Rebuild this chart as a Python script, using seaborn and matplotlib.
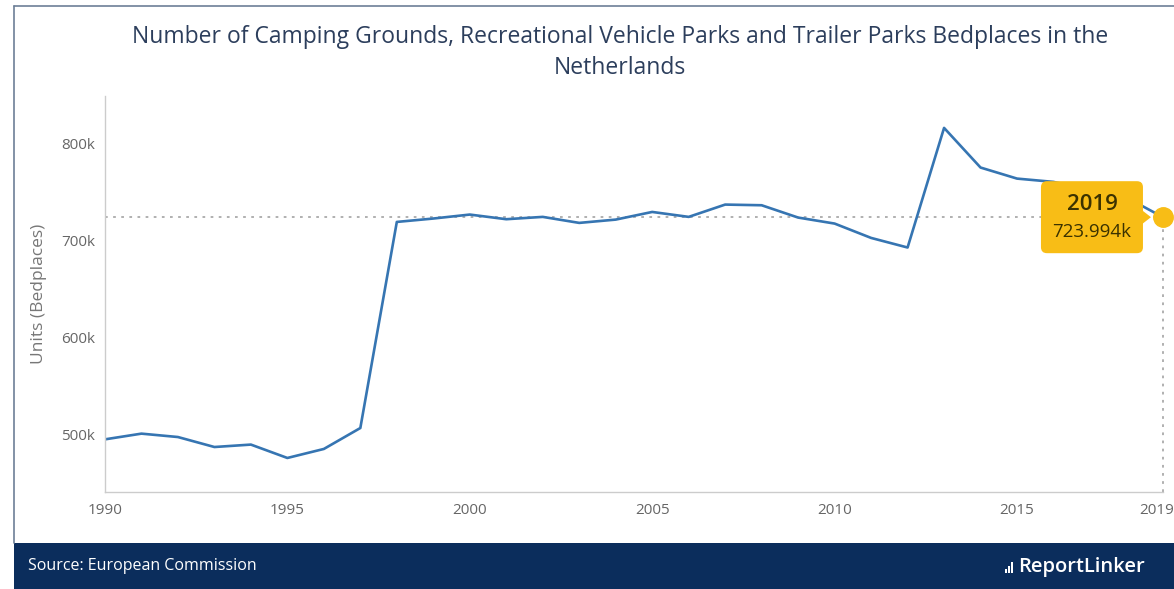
import numpy as np
import pandas as pd
import seaborn as sns
import matplotlib.pyplot as plt
from matplotlib.patches import Rectangle, FancyBboxPatch, Polygon
from matplotlib.lines import Line2D
from matplotlib.transforms import ScaledTranslation
from matplotlib.ticker import FuncFormatter

# data
years = list(range(1990, 2020))
bedplaces = [494800, 500700, 497200, 486900, 489400, 475600, 484900, 506500,
             719100, 722600, 726700, 721900, 724300, 718100, 721500, 729400,
             724300, 737000, 736300, 723600, 717400, 702600, 692700, 816100,
             775200, 763800, 760400, 752000, 744300, 723994]
y_ticks = [500000, 600000, 700000, 800000]
x_ticks = [1990, 1995, 2000, 2005, 2010, 2015, 2019]
title = ("Number of Camping Grounds, Recreational Vehicle Parks and Trailer Parks Bedplaces in the\n"
         "Netherlands")
y_label = "Units (Bedplaces)"
source = "Source: European Commission"
tip_year = "2019"
tip_value = "723.994k"

df = pd.DataFrame({"year": years, "value": bedplaces})

sns.set_style("white")
plt.rcParams['font.family'] = ['Open Sans', 'DejaVu Sans']

fig = plt.figure(figsize=(11.74, 5.89), dpi=100)
ax = fig.add_axes([0.0894, 0.1647, 0.9012, 0.6723])

sns.lineplot(data=df, x="year", y="value", ax=ax, color="#3675b2", linewidth=1.9)

ax.set_xlim(1990, 2019)
ax.set_ylim(440500, 849000)
ax.set_xticks(x_ticks)
ax.set_yticks(y_ticks)
ax.yaxis.set_major_formatter(FuncFormatter(lambda v, p: f"{int(v/1000)}k"))
ax.tick_params(axis="both", which="both", length=5, width=0.8, color="#cccccc",
               labelsize=11, labelcolor="#666666", direction="out", pad=2)
ax.tick_params(axis="x", pad=3)
# keep the last year label inside the figure
last_lab = ax.get_xticklabels()[-1]
last_lab.set_transform(last_lab.get_transform() + ScaledTranslation(-6 / 100, 0, fig.dpi_scale_trans))
for s in ["top", "right"]:
    ax.spines[s].set_visible(False)
for s in ["left", "bottom"]:
    ax.spines[s].set_color("#cccccc")
    ax.spines[s].set_linewidth(1)
ax.set_xlabel("")
ax.set_ylabel(y_label, fontsize=12.5, color="#777777", labelpad=10)

# crosshair to the last point
last_x, last_y = years[-1], bedplaces[-1]
ax.axhline(last_y, color="#aaaaaa", linestyle=(0, (1.5, 3)), linewidth=1.3, zorder=1)
ax.plot([last_x, last_x], [ax.get_ylim()[0], last_y], color="#aaaaaa",
        linestyle=(0, (1.5, 3)), linewidth=1.3, clip_on=False, zorder=1)
ax.plot([last_x], [last_y], marker="o", markersize=14, color="#f8bd16",
        clip_on=False, zorder=5)

# tooltip, placed in inches relative to the last point
tr = fig.dpi_scale_trans + ScaledTranslation(last_x, last_y, ax.transData)
box = FancyBboxPatch((-1.20, -0.34), 0.98, 0.68, boxstyle="round,pad=0.02,rounding_size=0.06",
                     transform=tr, facecolor="#f8bd16", edgecolor="none",
                     clip_on=False, zorder=6)
ax.add_patch(box)
ax.add_patch(Polygon([(-0.21, 0.07), (-0.12, 0.0), (-0.21, -0.07)], closed=True,
                     transform=tr, facecolor="#f8bd16", edgecolor="none",
                     clip_on=False, zorder=6))
ax.text(-0.71, 0.13, tip_year, transform=tr, ha="center", va="center",
        fontsize=16, fontweight="semibold", color="#3b3200", zorder=7)
ax.text(-0.71, -0.15, tip_value, transform=tr, ha="center", va="center",
        fontsize=13.5, color="#3b3200", zorder=7)

# title
fig.text(0.528, 0.958, title, ha="center", va="top", fontsize=16.5,
         color="#2c3e5c", linespacing=1.4)

# frame lines
fig.add_artist(Line2D([14 / 1174, 14 / 1174], [46 / 589, 1 - 6 / 589],
                      color="#6d7f97", linewidth=1.2))
fig.add_artist(Line2D([14 / 1174, 1.0], [1 - 6 / 589, 1 - 6 / 589],
                      color="#6d7f97", linewidth=1.2))

# footer band
fig.add_artist(Rectangle((14 / 1174, 0), 1 - 14 / 1174, 46 / 589,
                         transform=fig.transFigure, facecolor="#0b2d5c",
                         edgecolor="none"))
fig.text(28 / 1174, 23 / 589, source, ha="left", va="center", fontsize=11.5,
         color="white")
fig.text(1145 / 1174, 22 / 589, "ReportLinker", ha="right", va="center",
         fontsize=14.5, fontweight="semibold", color="white")
for i, h in enumerate([4, 7, 11]):
    fig.add_artist(Rectangle(((1005 + i * 3) / 1174, 16 / 589), 2 / 1174, h / 589,
                             transform=fig.transFigure, facecolor="white",
                             edgecolor="none"))

fig.savefig("out.png", dpi=100)
